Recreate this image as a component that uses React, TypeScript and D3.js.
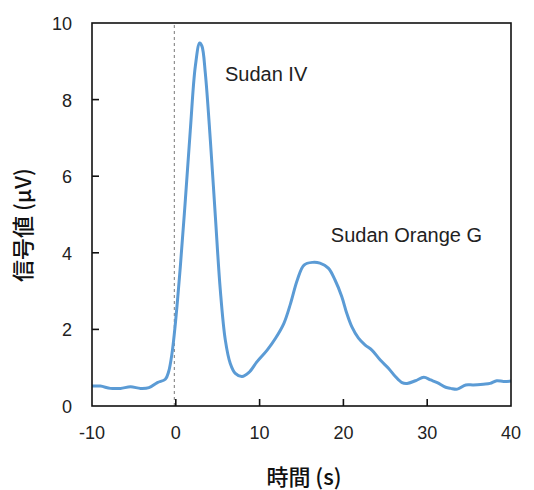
import React from "react";
import * as d3 from "d3";

const timeS = [-10, -9, -7.8, -6.6, -5.4, -4.2, -3.2, -2.2, -1.25, -0.85, -0.45, -0.05, 0.54, 1.14, 1.73, 2.33, 2.85, 3.13, 3.52, 4.12, 4.72, 5.31, 5.91, 6.5, 7.1, 7.9, 8.7, 9.7, 10.9, 11.9, 12.9, 13.7, 14.5, 15.3, 16.3, 17.2, 18.2, 19.0, 19.8, 20.4, 21.0, 21.8, 22.6, 23.4, 24.4, 25.4, 26.2, 27.0, 27.6, 28.6, 29.6, 30.4, 31.2, 32.2, 32.8, 33.6, 34.6, 35.5, 36.7, 37.5, 38.3, 39.1, 40];
const signal = [0.52, 0.52, 0.46, 0.46, 0.5, 0.46, 0.48, 0.61, 0.7, 0.9, 1.38, 2.16, 3.64, 5.38, 7.2, 8.87, 9.48, 9.39, 8.7, 6.95, 4.95, 3.03, 1.72, 1.11, 0.85, 0.77, 0.87, 1.16, 1.46, 1.77, 2.16, 2.68, 3.29, 3.68, 3.75, 3.73, 3.6, 3.29, 2.86, 2.42, 2.07, 1.77, 1.59, 1.46, 1.2, 0.98, 0.77, 0.61, 0.59, 0.66, 0.75, 0.68, 0.61, 0.49, 0.46, 0.44, 0.55, 0.55, 0.57, 0.59, 0.66, 0.64, 0.65];
const xTicks = [-10, 0, 10, 20, 30, 40];
const yTicks = [0, 2, 4, 6, 8, 10];
const labels = [
  { text: "Sudan IV", x: 5.87, y: 8.49 },
  { text: "Sudan Orange G", x: 18.5, y: 4.28 },
];

export default function App() {
  const W = 534, H = 490;
  const m = { left: 92, right: 23, top: 23, bottom: 84 };
  const x = d3.scaleLinear().domain([-10, 40]).range([m.left, W - m.right]);
  const y = d3.scaleLinear().domain([0, 10]).range([H - m.bottom, m.top]);
  const pts = timeS.map((t, i) => [t, signal[i]] as [number, number]);
  const line = d3.line<[number, number]>().x(d => x(d[0])).y(d => y(d[1])).curve(d3.curveCatmullRom.alpha(0.5));
  const font = "Liberation Sans, Arial, sans-serif";
  const cjk = "'Noto Sans CJK JP', 'Noto Sans', sans-serif";
  return (
    <svg width={W} height={H} style={{ position: "absolute", left: 0, top: 0, background: "#fff" }}>
      <line x1={x(0) - 1.5} x2={x(0) - 1.5} y1={y(0)} y2={y(10)} stroke="#777" strokeWidth={1} strokeDasharray="3,3" />
      <path d={line(pts) || ""} fill="none" stroke="#5b9bd5" strokeWidth={3} strokeLinejoin="round" />
      <rect x={x(-10)} y={y(10)} width={x(40) - x(-10)} height={y(0) - y(10)} fill="none" stroke="#111" strokeWidth={1.6} />
      {xTicks.slice(1, -1).map(t => (
        <line key={"xt" + t} x1={x(t)} x2={x(t)} y1={y(0)} y2={y(0) - 7} stroke="#111" strokeWidth={1.6} />
      ))}
      {yTicks.slice(1, -1).map(t => (
        <line key={"yt" + t} x1={x(-10)} x2={x(-10) + 7} y1={y(t)} y2={y(t)} stroke="#111" strokeWidth={1.6} />
      ))}
      {xTicks.map(t => (
        <text key={"xl" + t} x={x(t)} y={y(0) + 33} textAnchor="middle" fontFamily={font} fontSize={18} fill="#222">{t}</text>
      ))}
      {yTicks.map(t => (
        <text key={"yl" + t} x={x(-10) - 20} y={y(t) + 7} textAnchor="end" fontFamily={font} fontSize={18} fill="#222">{t}</text>
      ))}
      {labels.map(l => (
        <text key={l.text} x={x(l.x)} y={y(l.y)} fontFamily={font} fontSize={20} fill="#222">{l.text}</text>
      ))}
      <text x={304} y={485} textAnchor="middle" fontFamily={cjk} fontSize={22} fontWeight={500} fill="#111">時間 (s)</text>
      <text transform={`translate(31, 225) rotate(-90)`} textAnchor="middle" fontFamily={cjk} fontSize={22} fontWeight={500} fill="#111">信号値 (μV)</text>
    </svg>
  );
}
